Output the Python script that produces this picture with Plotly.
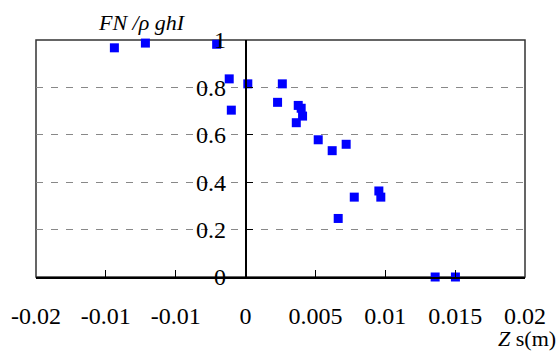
import plotly.graph_objects as go

# Normalised force FN/(rho g h I) against offset Zs (m)
zs = [-0.00939, -0.00717, -0.00207, -0.00117, 0.00016, -0.00102, 0.00229,
      0.00263, 0.00377, 0.00398, 0.00408, 0.00363, 0.00520, 0.00620,
      0.00720, 0.00954, 0.00968, 0.00778, 0.00663, 0.01357, 0.01502]
fn_ratio = [0.967, 0.987, 0.982, 0.836, 0.815, 0.704, 0.737,
            0.815, 0.724, 0.712, 0.679, 0.651, 0.579, 0.533,
            0.560, 0.363, 0.337, 0.337, 0.247, 0.0, 0.0]

x_tickvals = [-0.015, -0.01, -0.005, 0, 0.005, 0.01, 0.015, 0.02]
x_ticktext = ["-0.02", "-0.01", "-0.01", "0", "0.005", "0.01", "0.015", "0.02"]
y_tickvals = [0, 0.2, 0.4, 0.6, 0.8, 1]
y_ticktext = ["0", "0.2", "0.4", "0.6", "0.8", "1"]

x_min, x_max = -0.015, 0.02
serif = "Liberation Serif, Times New Roman, serif"

fig = go.Figure()
fig.add_trace(go.Scatter(
    x=zs, y=fn_ratio, mode="markers",
    marker=dict(symbol="square", size=9, color="#0000FF"),
    showlegend=False, cliponaxis=False,
))

fig.update_layout(
    width=558, height=351,
    margin=dict(l=36, r=33, t=40, b=74),
    paper_bgcolor="white", plot_bgcolor="white",
    font=dict(family=serif, size=24, color="black"),
    xaxis=dict(
        range=[x_min, x_max], tickvals=x_tickvals, ticktext=x_ticktext,
        showline=True, linecolor="black", linewidth=2,
        ticks="inside", ticklen=7, tickcolor="black", tickwidth=1,
        showgrid=False, zeroline=False, ticklabelstandoff=16,
        tickfont=dict(family=serif, size=24),
    ),
    yaxis=dict(
        range=[0, 1], tickvals=y_tickvals, ticktext=y_ticktext,
        anchor="free", position=(0 - x_min) / (x_max - x_min),
        showline=True, linecolor="black", linewidth=1.5,
        ticks="inside", ticklen=7, tickcolor="black", tickwidth=1,
        showgrid=True, gridcolor="#888888", gridwidth=1, griddash="7px,8px",
        zeroline=False, ticklabelstandoff=14,
        tickfont=dict(family=serif, size=24),
    ),
    shapes=[dict(type="rect", xref="paper", yref="paper", x0=0, y0=0, x1=1, y1=1,
                 line=dict(color="#333333", width=1.5), layer="below")],
    annotations=[
        dict(text="<i>FN /ρ ghI</i>", xref="paper", yref="paper",
             x=(142 - 36) / 489, y=1 + (40 - 23) / 237, showarrow=False,
             xanchor="center", yanchor="middle",
             font=dict(family=serif, size=22)),
        dict(text="<i>Z</i> s(m)", xref="paper", yref="paper",
             x=(527 - 36) / 489, y=(277 - 338) / 237, showarrow=False,
             xanchor="center", yanchor="middle",
             font=dict(family=serif, size=22)),
    ],
)

fig.write_html("out.html")
